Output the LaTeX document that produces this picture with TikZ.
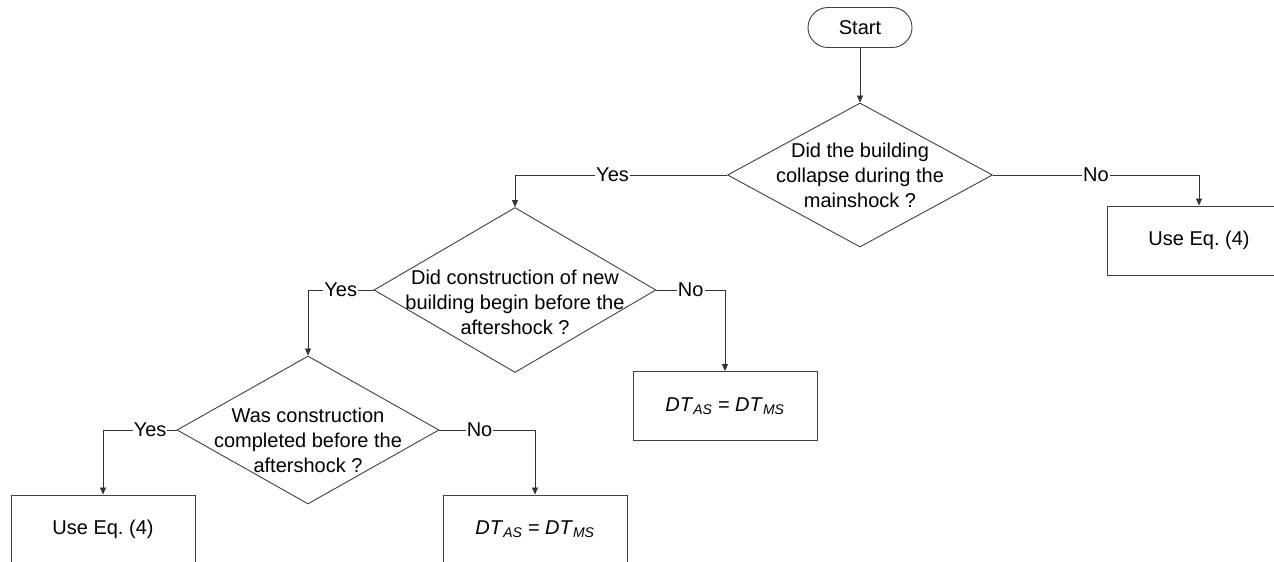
\documentclass[tikz,border=0pt]{standalone}
\usepackage{fontspec}
\setmainfont{Liberation Sans}
\usetikzlibrary{shapes.geometric, arrows.meta}

\newcommand{\dtvalue}{\textit{DT}\textsubscript{\textit{AS}} = \textit{DT}\textsubscript{\textit{MS}}}

\begin{document}
\frenchspacing
\begin{tikzpicture}[x=1pt, y=-1pt,
  font=\fontsize{20}{25}\selectfont,
  startstop/.style={draw=black!75, line width=0.9pt, rounded corners=20pt,
    minimum width=104pt, minimum height=40pt},
  decision/.style={draw=black!75, line width=0.9pt, diamond, inner sep=0pt},
  result/.style={draw=black!75, line width=0.9pt, minimum width=184pt, minimum height=69pt},
  question/.style={align=center, inner sep=0pt},
  flow/.style={draw=black!80, line width=0.8pt, -{Triangle[length=7pt, width=6pt]}},
  answer/.style={fill=white, inner sep=1pt, pos=0.25}]
  \useasboundingbox (0,0) rectangle (1274,562);

  % Nodes
  \node[startstop] (start) at (860,27.5) {Start};

  \node[decision, minimum width=265pt, minimum height=144pt] (q1) at (860,175) {};
  \node[question] (q1text) at (860,175) {Did the building\\collapse during the\\mainshock ?};

  \node[result] (eq1) at (1199,240.5) {Use Eq.\ (4)};

  \node[decision, minimum width=282pt, minimum height=165pt] (q2) at (515,290) {};
  \node[question] (q2text) at (515,302) {Did construction of new\\building begin before the\\aftershock ?};

  \node[result] (dt1) at (725,406) {\dtvalue};

  \node[decision, minimum width=262pt, minimum height=148pt] (q3) at (308,430) {};
  \node[question] (q3text) at (308,440) {Was construction\\completed before the\\aftershock ?};

  \node[result] (eq2) at (103,529.5) {Use Eq.\ (4)};
  \node[result] (dt2) at (535,529.5) {\dtvalue};

  % Arrows
  \draw[flow] (start) -- (q1);
  \draw[flow] (q1.west) -| node[answer, pos=0.27] {Yes} (q2.north);
  \draw[flow] (q1.east) -| node[answer] {No} (eq1.north);
  \draw[flow] (q2.west) -| node[answer] {Yes} (q3.north);
  \draw[flow] (q2.east) -| node[answer] {No} (dt1.north);
  \draw[flow] (q3.west) -| node[answer, pos=0.18] {Yes} (eq2.north);
  \draw[flow] (q3.east) -| node[answer, pos=0.21] {No} (dt2.north);
\end{tikzpicture}
\end{document}
